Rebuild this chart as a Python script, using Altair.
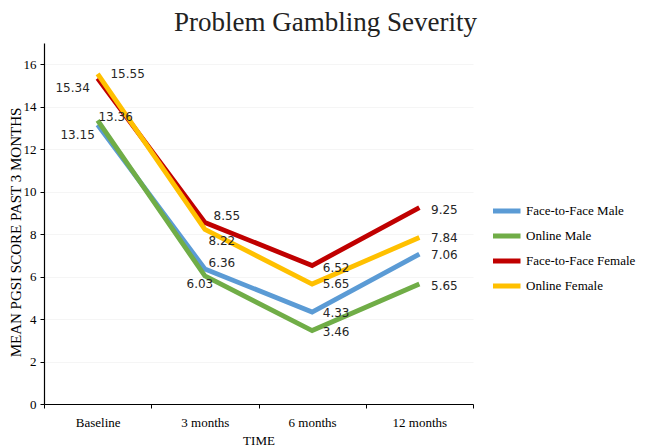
import altair as alt
import pandas as pd

times = ["Baseline", "3 months", "6 months", "12 months"]
series = ["Face-to-Face Male", "Online Male", "Face-to-Face Female", "Online Female"]
f2f_male = [13.15, 6.36, 4.33, 7.06]
online_male = [13.36, 6.03, 3.46, 5.65]
f2f_female = [15.34, 8.55, 6.52, 9.25]
online_female = [15.55, 8.22, 5.65, 7.84]
colors = ["#5B9BD5", "#70AD47", "#C00000", "#FFC000"]

PLOT_W = 429
HALF_BAND = PLOT_W / len(times) / 2

# label offsets (pixels, relative to the point) per series per time point
label_dx = {
    "Face-to-Face Male": [-20, 17, 24, 25],
    "Online Male": [18, -5, 24, 25],
    "Face-to-Face Female": [-25, 22, 24, 25],
    "Online Female": [30, 17, 24, 25],
}
label_dy = {
    "Face-to-Face Male": [10, -6, 1, 1],
    "Online Male": [-3, 8, 1, 2],
    "Face-to-Face Female": [10, -6, 2, 2],
    "Online Female": [0, 12, 0, 0],
}

values = [f2f_male, online_male, f2f_female, online_female]
rows = []
for si, (s, vals) in enumerate(zip(series, values)):
    for ti, (t, v) in enumerate(zip(times, vals)):
        rows.append({"series": s, "time": t, "value": v, "order": si,
                     "dx": label_dx[s][ti] + HALF_BAND, "dy": label_dy[s][ti],
                     "label": f"{v:.2f}"})
df = pd.DataFrame(rows)

x = alt.X("time:N", sort=times, title="TIME",
          scale=alt.Scale(paddingInner=0, paddingOuter=0),
          axis=alt.Axis(labelAngle=0, domainColor="#000", domainWidth=1.2,
                        tickColor="#000", tickSize=4, tickBand="extent",
                        labelFont="Liberation Serif", labelFontSize=13, labelColor="#000",
                        labelPadding=8, titleFont="Liberation Serif", titleFontSize=13,
                        titleFontWeight="normal", titleColor="#000", titlePadding=5))
y = alt.Y("value:Q", title="MEAN PGSI SCORE PAST 3 MONTHS",
          scale=alt.Scale(domain=[0, 17], nice=False),
          axis=alt.Axis(values=list(range(0, 17, 2)), domainColor="#000", domainWidth=1.2,
                        tickColor="#000", tickSize=4, grid=True, gridColor="#f5f5f5",
                        labelFont="Liberation Serif", labelFontSize=13, labelColor="#000",
                        labelPadding=4, titleFont="Liberation Serif", titleFontSize=15,
                        titleFontWeight="normal", titleColor="#000", titlePadding=0,
                        titleY=189))

color = alt.Color("series:N", sort=series,
                  scale=alt.Scale(domain=series, range=colors),
                  legend=alt.Legend(title=None, orient="none", legendX=449, legendY=158,
                                    symbolType="M-1.5,0H1.5", symbolSize=400,
                                    symbolStrokeWidth=5, symbolFillColor="transparent",
                                    labelFont="Liberation Serif",
                                    labelFontSize=13, labelColor="#000", labelOffset=8,
                                    clipHeight=20, rowPadding=5))

lines = alt.Chart(df).mark_line(strokeWidth=4.8).encode(
    x=x, y=y, color=color, order=alt.Order("order:Q"), detail="series:N"
)

label_layers = []
for d in sorted(df["dy"].unique()):
    label_layers.append(
        alt.Chart(df).transform_filter(alt.datum.dy == int(d))
        .mark_text(font="DejaVu Sans", fontSize=12, color="#262626", dy=int(d))
        .encode(
            x=alt.X("time:N", sort=times),
            y=alt.Y("value:Q"),
            xOffset=alt.XOffset("dx:Q", scale=None),
            text="label:N",
        )
    )

chart = alt.layer(lines, *label_layers).properties(
    width=PLOT_W, height=361,
    autosize=alt.AutoSizeParams(type="none"),
    padding={"left": 36, "top": 35, "right": 168, "bottom": 44},
    title=alt.TitleParams("Problem Gambling Severity", font="Liberation Serif",
                          fontSize=27, fontWeight="normal", color="#222",
                          anchor="middle", dx=67, offset=6),
).configure_view(stroke=None)

chart.save("out.html", embed_options={"renderer": "svg", "actions": False})
